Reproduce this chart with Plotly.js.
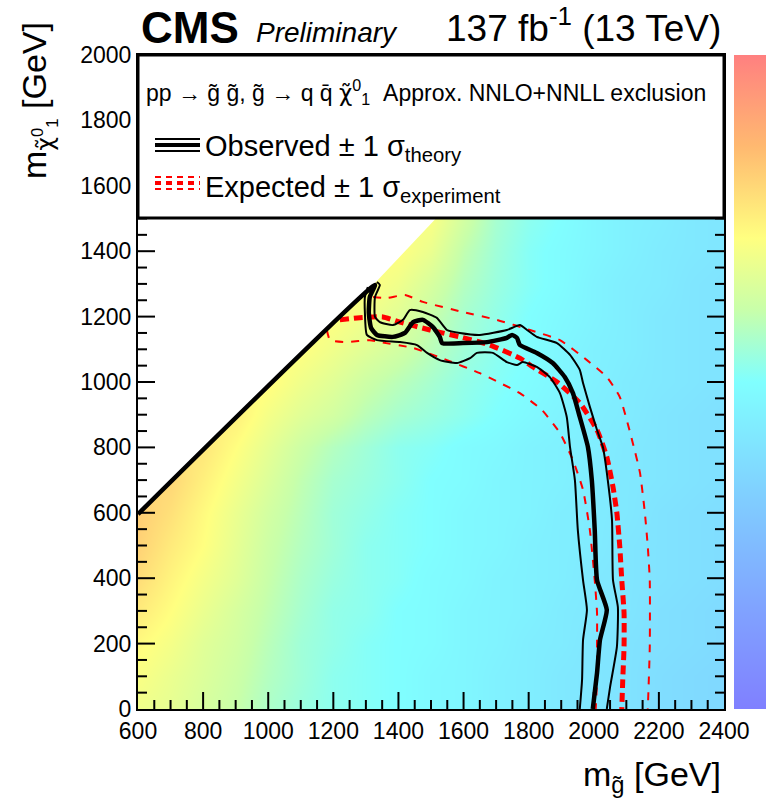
<!DOCTYPE html>
<html>
<head>
<meta charset="utf-8">
<script src="https://cdn.plot.ly/plotly-3.0.1.min.js"></script>
<style>html,body{margin:0;padding:0;background:#fff;}#chart{width:766px;height:799px;}</style>
</head>
<body>
<div id="chart"></div>
<script>
// gluino mass grid (GeV)
var mGluino = [600,700,800,900,1000,1100,1200,1300,1400,1500,1600,1700,1800,1900,2000,2100,2200,2300,2400];
// LSP mass grid (GeV)
var mLSP = [0,100,200,300,400,500,600,700,800,900,1000,1100,1200,1300,1400,1500];
// log10 of 95% CL upper limit on cross section [pb]; null = above kinematic limit
var N = null;
var limitLog = [
 [-0.57,-0.68,-0.85,-1.01,-1.24,-1.40,-1.51,-1.57,-1.63,-1.74,-1.79,-1.90,-1.96,-2.07,-2.12,-2.18,-2.29,-2.35,-2.40],
 [-0.46,-0.63,-0.79,-0.96,-1.18,-1.35,-1.51,-1.57,-1.63,-1.74,-1.79,-1.90,-1.96,-2.07,-2.12,-2.18,-2.29,-2.35,-2.40],
 [-0.35,-0.52,-0.74,-0.90,-1.13,-1.35,-1.46,-1.57,-1.63,-1.68,-1.79,-1.85,-1.96,-2.01,-2.12,-2.18,-2.24,-2.29,-2.35],
 [-0.18,-0.40,-0.63,-0.85,-1.07,-1.29,-1.46,-1.51,-1.63,-1.68,-1.79,-1.85,-1.90,-2.01,-2.07,-2.12,-2.24,-2.29,-2.35],
 [-0.02,-0.29,-0.52,-0.74,-1.01,-1.24,-1.40,-1.51,-1.57,-1.68,-1.74,-1.85,-1.90,-1.96,-2.07,-2.12,-2.18,-2.24,-2.29],
 [ 0.10,-0.18,-0.40,-0.68,-0.96,-1.18,-1.35,-1.51,-1.57,-1.63,-1.74,-1.79,-1.90,-1.96,-2.01,-2.12,-2.18,-2.24,-2.29],
 [ 0.15,-0.07,-0.35,-0.63,-0.90,-1.13,-1.35,-1.46,-1.57,-1.63,-1.74,-1.79,-1.85,-1.96,-2.01,-2.07,-2.18,-2.24,-2.29],
 [ N,    0.04,-0.24,-0.52,-0.79,-1.07,-1.29,-1.40,-1.51,-1.63,-1.68,-1.79,-1.85,-1.90,-2.01,-2.07,-2.12,-2.18,-2.24],
 [ N,    N,   -0.13,-0.40,-0.68,-0.96,-1.18,-1.35,-1.51,-1.57,-1.68,-1.74,-1.85,-1.90,-1.96,-2.07,-2.12,-2.18,-2.24],
 [ N,    N,    N,   -0.24,-0.52,-0.74,-0.90,-1.13,-1.29,-1.40,-1.51,-1.63,-1.74,-1.85,-1.96,-2.01,-2.12,-2.18,-2.24],
 [ N,    N,    N,    N,   -0.35,-0.57,-0.74,-0.96,-1.13,-1.29,-1.46,-1.57,-1.68,-1.79,-1.90,-2.01,-2.07,-2.12,-2.18],
 [ N,    N,    N,    N,    N,   -0.40,-0.57,-0.74,-0.90,-1.13,-1.35,-1.51,-1.63,-1.79,-1.90,-1.96,-2.07,-2.12,-2.18],
 [ N,    N,    N,    N,    N,    N,   -0.40,-0.57,-0.74,-1.01,-1.29,-1.46,-1.63,-1.74,-1.85,-1.96,-2.07,-2.12,-2.18],
 [ N,    N,    N,    N,    N,    N,    N,   -0.40,-0.57,-0.85,-1.18,-1.40,-1.57,-1.68,-1.85,-1.96,-2.01,-2.12,-2.18],
 [ N,    N,    N,    N,    N,    N,    N,    N,   -0.40,-0.63,-1.07,-1.35,-1.57,-1.68,-1.79,-1.90,-2.01,-2.07,-2.12],
 [ N,    N,    N,    N,    N,    N,    N,    N,    N,   -0.46,-0.90,-1.29,-1.51,-1.63,-1.79,-1.90,-1.96,-2.07,-2.12]
];
// kinematic edge of the scanned region (mLSP ~ mGluino)
var edgeX = [600, 1330, 1520, 1520, 600];
var edgeY = [598, 1305, 1505, 2000, 2000];
// observed exclusion contour (closing along the diagonal)
var obsX = [600,1328,1312,1309,1316,1334,1383,1420,1445,1475,1506,1527,1534,1598,1672,1733,1749,1764,1773,1825,1874,1911,1936,1957,1982,1994,2003,2010,2040,2019,2010,1997];
var obsY = [596,1297,1260,1211,1165,1144,1138,1150,1183,1190,1168,1138,1119,1119,1122,1135,1144,1135,1113,1089,1058,1015,966,893,801,700,547,394,303,211,110,0];
// observed +1 sigma theory
var obsUpX = [1334,1343,1328,1328,1343,1383,1414,1435,1475,1518,1549,1589,1650,1733,1773,1795,1825,1887,1927,1957,1967,1988,2010,2028,2043,2056,2059,2074,2071,2050,2040];
var obsUpY = [1306,1297,1260,1199,1183,1174,1190,1220,1214,1196,1159,1150,1144,1159,1174,1159,1138,1119,1083,1037,997,924,853,801,700,578,394,312,190,67,0];
// observed -1 sigma theory
var obsDnX = [1306,1297,1297,1303,1334,1405,1457,1488,1527,1580,1620,1641,1690,1733,1764,1782,1825,1865,1896,1917,1927,1942,1951,1967,1979,1967,1964,1957];
var obsDnY = [1290,1260,1211,1144,1128,1122,1113,1089,1067,1058,1073,1089,1089,1061,1052,1061,1046,1015,966,893,801,700,547,394,303,211,89,0];
// expected contour
var expX = [1220,1273,1352,1405,1497,1589,1681,1773,1813,1887,1957,2010,2040,2059,2071,2080,2086,2093,2093,2089,2086];
var expY = [1190,1196,1199,1183,1159,1138,1113,1073,1046,1000,936,853,771,679,599,495,394,294,190,89,0];
// expected +1 sigma experiment
var expUpX = [1322,1365,1420,1475,1598,1702,1804,1896,1979,2040,2080,2120,2142,2157,2166,2172,2172,2166];
var expUpY = [1260,1257,1266,1245,1214,1190,1159,1128,1067,1015,954,813,722,599,495,394,190,0];
// expected -1 sigma experiment
var expDnX = [1180,1190,1242,1312,1343,1445,1549,1650,1712,1773,1841,1896,1936,1967,1988,2003,2010,2010,2010,2006];
var expDnY = [1159,1128,1122,1128,1122,1104,1067,1027,997,966,914,844,761,670,547,394,294,190,89,0];

// axis ticks
var xTicks = [600,800,1000,1200,1400,1600,1800,2000,2200,2400];
var yTicks = [0,200,400,600,800,1000,1200,1400,1600,1800,2000];
var zTicks = [-3,-2,-1,0,1];
var zRange = [-4.4, 1.15];
var xRange = [600, 2400], yRange = [0, 2000];

var FONT = 'Liberation Sans, Arial, Helvetica, sans-serif';
var pale = [
  [0.00,'rgb(128,128,255)'],
  [0.15,'rgb(128,162,255)'],
  [0.32,'rgb(128,205,255)'],
  [0.50,'rgb(128,255,255)'],
  [0.61,'rgb(200,255,170)'],
  [0.72,'rgb(255,255,128)'],
  [0.86,'rgb(255,185,112)'],
  [1.00,'rgb(255,128,128)']
];

// plot-area size in pixels (for tick lengths in data units)
var PW = 586, PH = 654;
var dxPerPx = (xRange[1]-xRange[0])/PW, dyPerPx = (yRange[1]-yRange[0])/PH;
var tkX = [], tkY = [];
function xTick(v, len){ // vertical ticks at bottom and top
  tkX.push(v, v, null, v, v, null);
  tkY.push(yRange[0], yRange[0]+len*dyPerPx, null, yRange[1], yRange[1]-len*dyPerPx, null);
}
function yTick(v, len){ // horizontal ticks at left and right
  tkX.push(xRange[0], xRange[0]+len*dxPerPx, null, xRange[1], xRange[1]-len*dxPerPx, null);
  tkY.push(v, v, null, v, v, null);
}
xTicks.forEach(function(v,i){
  if(i>0 && i<xTicks.length-1) xTick(v,17);
  if(i<xTicks.length-1){ var s=(xTicks[i+1]-v)/4; for(var k=1;k<4;k++) xTick(v+k*s,9); }
});
yTicks.forEach(function(v,i){
  if(i>0 && i<yTicks.length-1) yTick(v,17);
  if(i<yTicks.length-1){ var s=(yTicks[i+1]-v)/4; for(var k=1;k<4;k++) yTick(v+k*s,9); }
});

var traces = [
  {type:'heatmap', x:mGluino, y:mLSP, z:limitLog, zsmooth:'best', connectgaps:true,
   colorscale:pale, zmin:zRange[0], zmax:zRange[1], hoverinfo:'skip',
   colorbar:{x:1.017, xanchor:'left', y:0.5, yanchor:'middle', len:1, lenmode:'fraction',
     xpad:0, ypad:0, thickness:34, outlinewidth:0, ticks:'', showticklabels:false}},
  {type:'scatter', mode:'lines', x:edgeX, y:edgeY, fill:'toself', fillcolor:'#ffffff',
   line:{width:0, color:'rgba(0,0,0,0)'}, hoverinfo:'skip', showlegend:false},
  {type:'scatter', mode:'lines', x:tkX, y:tkY, line:{color:'#000', width:2}, connectgaps:false, hoverinfo:'skip', showlegend:false},
  {type:'scatter', mode:'lines', x:expUpX, y:expUpY, line:{color:'#ff0000', width:2, dash:'8px,8px', shape:'spline', smoothing:0.5}, showlegend:false},
  {type:'scatter', mode:'lines', x:expDnX, y:expDnY, line:{color:'#ff0000', width:2, dash:'8px,8px', shape:'spline', smoothing:0.5}, showlegend:false},
  {type:'scatter', mode:'lines', x:expX, y:expY, line:{color:'#ff0000', width:5, dash:'9px,5px', shape:'spline', smoothing:0.5}, showlegend:false},
  {type:'scatter', mode:'lines', x:obsUpX, y:obsUpY, line:{color:'#000', width:2, shape:'spline', smoothing:0.5}, showlegend:false},
  {type:'scatter', mode:'lines', x:obsDnX, y:obsDnY, line:{color:'#000', width:2, shape:'spline', smoothing:0.5}, showlegend:false},
  {type:'scatter', mode:'lines', x:obsX, y:obsY, line:{color:'#000', width:4.5, shape:'spline', smoothing:0.5}, showlegend:false}
];

function px2x(p){return (p-138)/586;}
function py2y(p){return (709-p)/654;}

var shapes = [];
// colorbar ticks (on its right edge, pointing inward)
zTicks.forEach(function(z){
  var f=(z-zRange[0])/(zRange[1]-zRange[0]);
  shapes.push({type:'rect', xref:'paper', yref:'paper', x0:px2x(756), x1:px2x(768), y0:f-1/654, y1:f+1/654, fillcolor:'#222', line:{width:0}, layer:'above'});
});
// legend box and its line samples
shapes.push({type:'rect', xref:'paper', yref:'paper', x0:0, x1:1, y0:py2y(218), y1:1, fillcolor:'#fff', line:{color:'#000', width:3}, layer:'above'});
[[139,2],[145,4],[151,2]].forEach(function(a){
  shapes.push({type:'line', xref:'paper', yref:'paper', x0:px2x(155), x1:px2x(200), y0:py2y(a[0]), y1:py2y(a[0]), line:{color:'#000', width:a[1]}, layer:'above'});
});
[[177,2],[183,4],[189,2]].forEach(function(a){
  shapes.push({type:'line', xref:'paper', yref:'paper', x0:px2x(155), x1:px2x(200), y0:py2y(a[0]), y1:py2y(a[0]), line:{color:'#f00', width:a[1], dash:'6px,5px'}, layer:'above'});
});

var CHI = '<span style="font-family:DejaVu Sans">\u03c7\u0303</span>';
var annotations = [
  {text:'<b>CMS</b>', xref:'paper', yref:'paper', x:px2x(139), y:py2y(28), xanchor:'left', yanchor:'middle', showarrow:false, font:{family:FONT, size:44, color:'#000'}},
  {text:'<i>Preliminary</i>', xref:'paper', yref:'paper', x:px2x(254), y:py2y(33), xanchor:'left', yanchor:'middle', showarrow:false, font:{family:FONT, size:28, color:'#000'}},
  {text:'137 fb<sup>-1</sup> (13 TeV)', xref:'paper', yref:'paper', x:px2x(723), y:py2y(25), xanchor:'right', yanchor:'middle', showarrow:false, font:{family:FONT, size:37, color:'#000'}},
  {text:'pp \u2192 g\u0303 g\u0303, g\u0303 \u2192 q q\u0304 ' + CHI + '<sup>0</sup><sub>1</sub>  Approx. NNLO+NNLL exclusion', xref:'paper', yref:'paper', x:px2x(144), y:py2y(92), xanchor:'left', yanchor:'middle', showarrow:false, font:{family:FONT, size:23, color:'#000'}},
  {text:'Observed \u00b1 1 \u03c3<sub>theory</sub>', xref:'paper', yref:'paper', x:px2x(203), y:py2y(148), xanchor:'left', yanchor:'middle', showarrow:false, font:{family:FONT, size:29, color:'#000'}},
  {text:'Expected \u00b1 1 \u03c3<sub>experiment</sub>', xref:'paper', yref:'paper', x:px2x(203), y:py2y(189), xanchor:'left', yanchor:'middle', showarrow:false, font:{family:FONT, size:29, color:'#000'}},
  {text:'m<sub>g\u0303</sub> [GeV]', xref:'paper', yref:'paper', x:px2x(723), y:py2y(776), xanchor:'right', yanchor:'middle', showarrow:false, font:{family:FONT, size:34, color:'#000'}},
  {text:'m<sub>' + CHI + '<sup>0</sup><sub>1</sub></sub> [GeV]', xref:'paper', yref:'paper', x:px2x(38), y:py2y(100), xanchor:'center', yanchor:'middle', textangle:-90, showarrow:false, font:{family:FONT, size:34, color:'#000'}}
];

var layout = {
  width:766, height:799,
  margin:{l:138, r:42, t:55, b:90, autoexpand:false},
  paper_bgcolor:'#fff', plot_bgcolor:'#fff',
  font:{family:FONT, color:'#000'},
  showlegend:false,
  xaxis:{range:xRange, tickmode:'array', tickvals:xTicks, ticktext:xTicks.map(String), showgrid:false, zeroline:false,
    showline:true, linecolor:'black', linewidth:2, mirror:true, ticks:'', tickfont:{family:FONT, size:23, color:'#000'}},
  yaxis:{range:yRange, tickmode:'array', tickvals:yTicks, ticktext:yTicks.map(String), showgrid:false, zeroline:false,
    showline:true, linecolor:'black', linewidth:2, mirror:true, ticks:'', tickfont:{family:FONT, size:23, color:'#000'}},
  shapes:shapes,
  annotations:annotations
};

Plotly.newPlot('chart', traces, layout, {staticPlot:true, displayModeBar:false});
</script>
</body>
</html>
